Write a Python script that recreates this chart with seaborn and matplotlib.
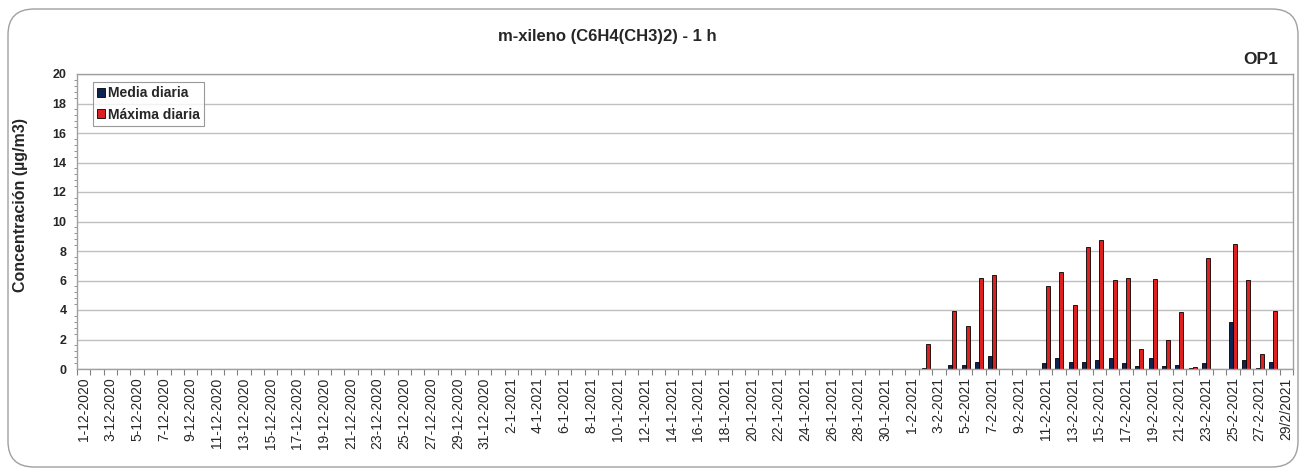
import numpy as np
import pandas as pd
import matplotlib
matplotlib.use("Agg")
import matplotlib.pyplot as plt
from matplotlib.patches import FancyBboxPatch
from matplotlib.ticker import MultipleLocator, FixedLocator
import seaborn as sns

# ---- data ----
dates = pd.date_range("2020-12-01", "2021-02-28", freq="D")
categories = [f"{d.day}-{d.month}-{d.year}" for d in dates] + ["29/2/2021"]

nan = np.nan
# Dec 2020 and Jan 2021: no data
decjan_media = [nan] * 62
decjan_max = [nan] * 62
# Feb 2021 (1..29)
feb_media = [nan, 0.10, nan, 0.30, 0.30, 0.45, 0.90, nan, nan, nan,
             0.40, 0.75, 0.50, 0.45, 0.60, 0.75, 0.40, 0.20, 0.75, 0.20,
             0.25, 0.05, 0.40, nan, 3.20, 0.63, 0.05, 0.45, nan]
feb_max = [nan, 1.70, nan, 3.90, 2.90, 6.20, 6.35, nan, nan, nan,
           5.60, 6.55, 4.35, 8.25, 8.75, 6.05, 6.20, 1.35, 6.10, 1.95,
           3.85, 0.13, 7.55, nan, 8.50, 6.05, 1.05, 3.93, nan]

media = decjan_media + feb_media
maxima = decjan_max + feb_max
series_names = ["Media diaria", "Máxima diaria"]
colors = ["#002060", "#FF0000"]

df = pd.DataFrame({
    "fecha": categories * 2,
    "valor": media + maxima,
    "serie": [series_names[0]] * len(categories) + [series_names[1]] * len(categories),
})

# ---- plot ----
sns.set_style("white")
plt.rcParams["font.family"] = ["Liberation Sans", "DejaVu Sans"]

fig = plt.figure(figsize=(13.07, 4.76), dpi=100)
ax = fig.add_axes([77 / 1307, 1 - 369 / 476, (1293 - 77) / 1307, (369 - 74) / 476])

sns.barplot(data=df, x="fecha", y="valor", hue="serie", order=categories,
            hue_order=series_names, palette=colors, width=0.6, gap=0,
            edgecolor="black", linewidth=0.6, ax=ax, legend=True)

ax.set_ylim(0, 20)
ax.set_xlim(-0.5, len(categories) - 0.5)
ax.yaxis.set_major_locator(MultipleLocator(2))
ax.yaxis.set_minor_locator(MultipleLocator(0.4))
ax.yaxis.grid(True, which="major", color="#c0c0c0", linewidth=1.0)
ax.set_axisbelow(True)

ticks = list(range(0, len(categories), 2))
ax.set_xticks(ticks)
ax.set_xticklabels([categories[i] for i in ticks], rotation=90, fontsize=10)
ax.xaxis.set_minor_locator(FixedLocator(np.arange(-0.5, len(categories), 1.0)))
ax.tick_params(axis="x", which="major", length=0, pad=6)
ax.tick_params(axis="x", which="minor", length=4, color="#808080", width=0.8, bottom=True)
ax.tick_params(axis="y", which="major", length=4, color="#808080", labelsize=9)
ax.tick_params(axis="y", which="minor", length=2, color="#808080", left=True)
for lab in ax.get_yticklabels():
    lab.set_fontweight("bold")

for sp in ax.spines.values():
    sp.set_color("#a0a0a0")
    sp.set_linewidth(1.0)

ax.set_xlabel("")
ax.set_ylabel("Concentración (µg/m3)", fontsize=11.5, fontweight="bold")
ax.yaxis.set_label_coords((28 - 77) / 1216, (369 - 205) / 295)

leg = ax.legend(loc="upper left", bbox_to_anchor=(0.013, 0.973), frameon=True,
                fancybox=False, edgecolor="#808080", fontsize=10,
                handlelength=0.6, handleheight=0.6, handletextpad=0.2,
                borderpad=0.3, labelspacing=0.55, borderaxespad=0)
for t in leg.get_texts():
    t.set_fontweight("bold")
leg.get_frame().set_linewidth(0.8)

fig.text(607 / 1307, 1 - 37 / 476, "m-xileno (C6H4(CH3)2) - 1 h", ha="center", va="center",
         fontsize=12, fontweight="bold")
fig.text(1261 / 1307, 1 - 60 / 476, "OP1", ha="center", va="center",
         fontsize=12.5, fontweight="bold")

border = FancyBboxPatch((8 / 1307, 1 - 467 / 476), (1298 - 8) / 1307, (467 - 9) / 476,
                        boxstyle="round,pad=0,rounding_size=0.02", transform=fig.transFigure,
                        fill=False, edgecolor="#a0a0a0", linewidth=1.0, mutation_aspect=2.7)
fig.patches.append(border)

fig.savefig("out.png", dpi=100)
